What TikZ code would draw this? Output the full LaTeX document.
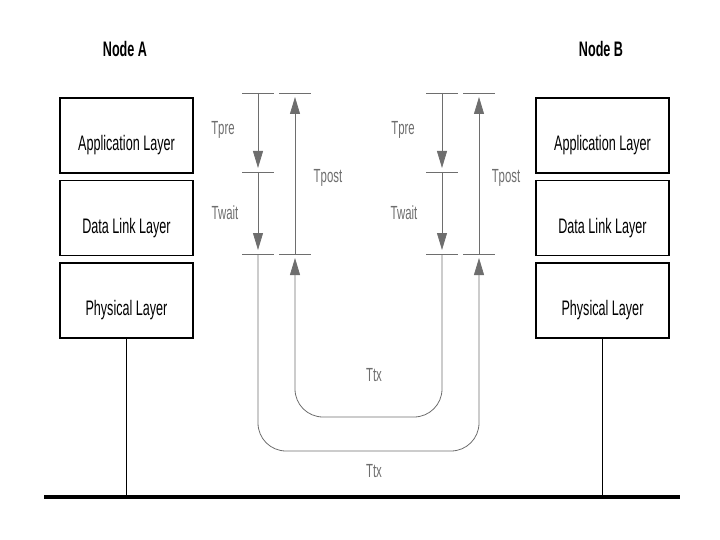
\documentclass[tikz,border=0pt]{standalone}
\usepackage{fontspec}
\setmainfont{Liberation Sans}
\usepackage{graphicx}
\usetikzlibrary{arrows.meta,positioning}
\definecolor{ink}{HTML}{000000}
\definecolor{dim}{HTML}{6E6E6E}
\newcommand{\narrow}[1]{\scalebox{0.6}[1]{#1}}

\begin{document}
\begin{tikzpicture}[x=1pt,y=-1pt,>=Latex,node distance=6pt,
  layer/.style={draw=ink,line width=1.4pt,minimum width=133pt,minimum height=75pt,inner sep=0pt,text height=31pt,text depth=0.4pt,font=\fontsize{21}{21}\selectfont},
  nodename/.style={inner sep=0pt,font=\fontsize{21}{21}\selectfont\bfseries},
  tlabel/.style={text=dim,inner sep=0pt,font=\fontsize{19}{19}\selectfont},
  tick/.style={draw=dim,line width=0.8pt},
  tarrow/.style={draw=dim,line width=0.8pt,-{Triangle[width=10pt,length=17pt]},shorten >=4pt},
  loopline/.style={tarrow,rounded corners=28pt},
  bus/.style={draw=ink,line width=4.5pt},
  drop/.style={draw=ink,line width=0.8pt}]
\useasboundingbox (0,0) rectangle (720,540);

% protocol stacks
\node[layer] (appA) at (126.5,135.5) {\narrow{Application Layer}};
\node[layer,below=of appA] (dllA) {\narrow{Data Link Layer}};
\node[layer,below=of dllA] (phyA) {\narrow{Physical Layer}};
\node[layer] (appB) at (602.5,135.5) {\narrow{Application Layer}};
\node[layer,below=of appB] (dllB) {\narrow{Data Link Layer}};
\node[layer,below=of dllB] (phyB) {\narrow{Physical Layer}};
\node[nodename] (nameA) at (125,49) {\narrow{Node A}};
\node[nodename] (nameB) at (601,49) {\narrow{Node B}};

% medium
\coordinate (busL) at (44,497);
\coordinate (busR) at (680,497);
\draw[bus] (busL) -- (busR);
\draw[drop] (phyA.south) -- (phyA.south |- busL);
\draw[drop] (phyB.south) -- (phyB.south |- busL);

% timing marks
\coordinate (aTop) at (258,93);
\coordinate (aMid) at (258,172);
\coordinate (aBot) at (258,254);
\coordinate (aPostTop) at (295,93);
\coordinate (aPostBot) at (295,254);
\coordinate (bTop) at (442,93);
\coordinate (bMid) at (442,172);
\coordinate (bBot) at (442,254);
\coordinate (bPostTop) at (479,93);
\coordinate (bPostBot) at (479,254);
\foreach \c in {aTop,aMid,aBot,aPostTop,aPostBot,bTop,bMid,bBot,bPostTop,bPostBot}
  \draw[tick] ([xshift=-16pt]\c) -- ([xshift=16pt]\c);

\draw[tarrow] (aTop) -- (aMid);
\draw[tarrow] (aMid) -- (aBot);
\draw[tarrow] (aPostBot) -- (aPostTop);
\draw[tarrow] (bTop) -- (bMid);
\draw[tarrow] (bMid) -- (bBot);
\draw[tarrow] (bPostBot) -- (bPostTop);

% transfers
\draw[loopline] (aBot) -- (258,451) -- (479,451) -- (bPostBot);
\draw[loopline] (bBot) -- (442,417) -- (295,417) -- (aPostBot);

\node[tlabel] (preA) at (223,130) {\narrow{Tpre}};
\node[tlabel] (waitA) at (225,213) {\narrow{Twait}};
\node[tlabel] (postA) at (328,178) {\narrow{Tpost}};
\node[tlabel] (preB) at (403,130) {\narrow{Tpre}};
\node[tlabel] (waitB) at (404,213) {\narrow{Twait}};
\node[tlabel] (postB) at (506,178) {\narrow{Tpost}};
\node[tlabel] (txIn) at (374,375) {\narrow{Ttx}};
\node[tlabel] (txOut) at (374,471) {\narrow{Ttx}};
\end{tikzpicture}
\end{document}
